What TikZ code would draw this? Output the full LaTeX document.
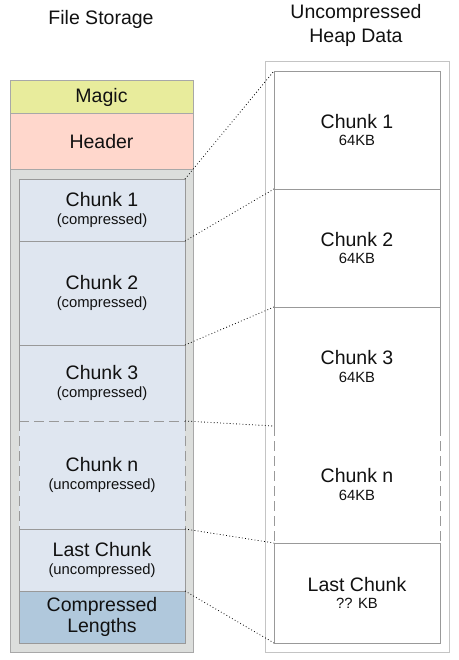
\documentclass[tikz,border=0pt]{standalone}
\usepackage{fontspec}
\setmainfont{Liberation Sans}
\newcommand{\mainsz}{\fontsize{19.5}{22}\selectfont}
\newcommand{\subsz}{\fontsize{14.8}{17}\selectfont}
\definecolor{magicc}{HTML}{E8EC9C}
\definecolor{headerc}{HTML}{FFD7CC}
\definecolor{grayc}{HTML}{DCDEDC}
\definecolor{chunkc}{HTML}{DFE6F0}
\definecolor{lenc}{HTML}{B0C8DC}
\definecolor{bordc}{HTML}{999999}
\definecolor{outc}{HTML}{A8A8A8}
\definecolor{routc}{HTML}{C4C4C4}
\definecolor{txtc}{HTML}{111111}
\begin{document}
\begin{tikzpicture}[x=1pt,y=-1pt,
  box/.style={rectangle, inner sep=0pt, outer sep=0pt, text=txtc, align=center, font=\mainsz},
  bordered/.style={draw=bordc, line width=0.9pt},
  dashside/.style={draw=bordc, line width=0.9pt, dash pattern=on 10pt off 5pt},
  link/.style={draw=black, line width=0.8pt, dash pattern=on 0.8pt off 2.4pt},
  title/.style={text=txtc, align=center, font=\mainsz, inner sep=0pt}
]
\useasboundingbox[fill=white] (0,0) rectangle (458,660);
% titles
\node[title, anchor=base] (t1) at (101,24.3) {File Storage};
\node[title, anchor=base] (t2) at (356,19) {Uncompressed};
\node[title, anchor=base] (t3) at (356,42.3) {Heap Data};
% left column
\node[box, fill=grayc, draw=outc, line width=1pt, minimum width=183pt, minimum height=482pt] (lgray) at (101.5,411) {};
\node[box, fill=magicc, draw=outc, line width=1pt, minimum width=183pt, minimum height=33pt] (magic) at (101.5,97.5) {Magic};
\node[box, fill=headerc, draw=outc, line width=1pt, minimum width=183pt, minimum height=56pt] (header) at (101.5,142) {Header};
\node[box, fill=chunkc, bordered, minimum width=166pt, minimum height=62pt] (c1) at (102,210) {Chunk 1\\[-4.5pt]{\subsz (compressed)}};
\node[box, fill=chunkc, bordered, minimum width=166pt, minimum height=104pt] (c2) at (102,293) {Chunk 2\\[-4.5pt]{\subsz (compressed)}};
\node[box, fill=chunkc, minimum width=166pt, minimum height=76pt] (c3) at (102,383) {Chunk 3\\[-4.5pt]{\subsz (compressed)}};
\draw[draw=bordc, line width=0.9pt] (c3.south west) -- (c3.north west) -- (c3.north east) -- (c3.south east);
\node[box, fill=chunkc, minimum width=166pt, minimum height=108pt] (cn) at (102,475) {Chunk n\\[-4.5pt]{\subsz (uncompressed)}};
\draw[dashside] (cn.north west) -- (cn.north east);
\draw[dashside] (cn.north west) -- (cn.south west);
\draw[dashside] (cn.north east) -- (cn.south east);
\node[box, fill=chunkc, bordered, minimum width=166pt, minimum height=62pt] (clast) at (102,560) {Last Chunk\\[-4.5pt]{\subsz (uncompressed)}};
\node[box, fill=lenc, bordered, minimum width=166pt, minimum height=52pt] (clen) at (102,617) {Compressed\\[-0.5pt]Lengths};
% right column
\node[box, fill=white, draw=routc, line width=1pt, minimum width=184pt, minimum height=590pt] (rout) at (357,357) {};
\node[box, fill=white, bordered, minimum width=166pt, minimum height=118pt] (r1) at (357,130) {Chunk 1\\[-4.5pt]{\subsz 64KB}};
\node[box, fill=white, bordered, minimum width=166pt, minimum height=118pt] (r2) at (357,248) {Chunk 2\\[-4.5pt]{\subsz 64KB}};
\node[box, fill=white, bordered, minimum width=166pt, minimum height=119pt] (r3) at (357,366.5) {Chunk 3\\[-4.5pt]{\subsz 64KB}};
\node[box, fill=white, minimum width=166pt, minimum height=117pt] (rn) at (357,484.5) {Chunk n\\[-4.5pt]{\subsz 64KB}};
\draw[dashside] (rn.north west) -- (rn.south west);
\draw[dashside] (rn.north east) -- (rn.south east);
\node[box, fill=white, bordered, minimum width=166pt, minimum height=100pt] (rlast) at (357,593) {Last Chunk\\[-4.5pt]{\subsz ?? KB}};
% connectors
\draw[link] (c1.north east) -- (r1.north west);
\draw[link] (c1.south east) -- (r2.north west);
\draw[link] (c2.south east) -- (r3.north west);
\draw[link] (c3.south east) -- (rn.north west);
\draw[link] (cn.south east) -- (rlast.north west);
\draw[link] (clast.south east) -- (rlast.south west);
\end{tikzpicture}
\end{document}
